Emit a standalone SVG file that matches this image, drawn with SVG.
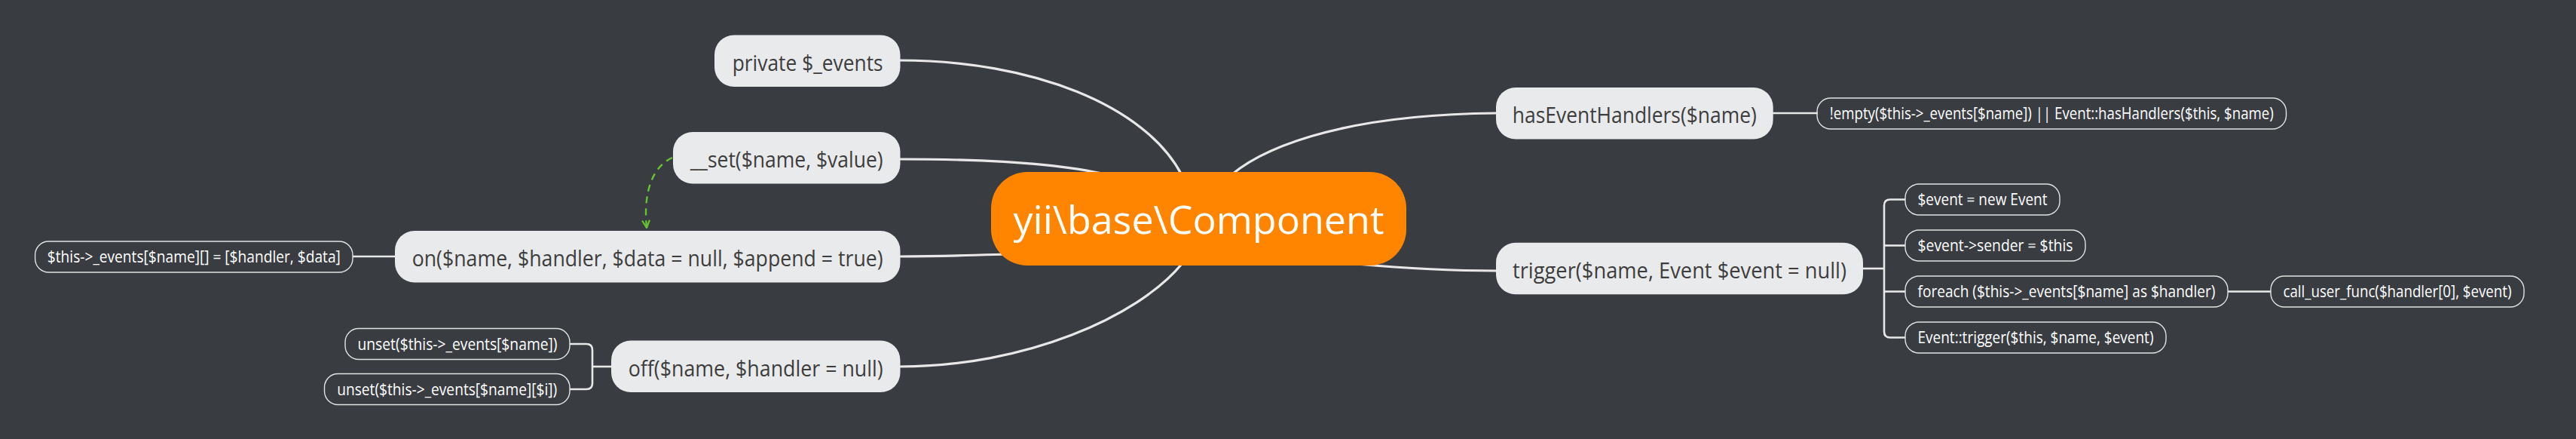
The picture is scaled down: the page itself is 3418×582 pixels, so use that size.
<svg xmlns="http://www.w3.org/2000/svg" width="3418" height="582" viewBox="0 0 3418 582">
<style>
  .bg { fill: #393c41; }
  .main rect { fill: #e9eaec; }
  .main text { fill: #3d3d3d; font-family: "Open Sans", "Noto Sans", sans-serif; font-size: 29px; text-anchor: middle; }
  .sub rect { fill: none; stroke: #e2e2e2; stroke-width: 1.4; }
  .sub text { fill: #ffffff; font-family: "Open Sans", "Noto Sans", sans-serif; font-size: 21px; text-anchor: middle; }
  .center rect { fill: #ff8500; }
  .center text { fill: #ffffff; font-family: "Open Sans", "Noto Sans", sans-serif; font-size: 52px; text-anchor: middle; }
  .c1 { fill: none; stroke: #e8e8e8; stroke-width: 3.2; }
  .c2 { fill: none; stroke: #e8e8e8; stroke-width: 2.6; }
  .rel { fill: none; stroke: #66c430; stroke-width: 2.4; stroke-dasharray: 9 7; }
</style>
<defs>
  <marker id="arr" viewBox="0 0 12 12" refX="11" refY="6" markerWidth="12" markerHeight="12" markerUnits="userSpaceOnUse" orient="auto">
    <path d="M1,1 L11,6 L1,11" fill="none" stroke="#66c430" stroke-width="2.2"/>
  </marker>
</defs>
<rect class="bg" x="0" y="0" width="3418" height="582"/>

<g id="connectors">
  <path class="c1" d="M1194,80 C1370,80 1520,140 1568,232"/>
  <path class="c1" d="M1194,211 C1330,211 1420,220 1470,232"/>
  <path class="c1" d="M1194,340 C1260,340 1290,338 1340,337"/>
  <path class="c1" d="M1194,486 C1360,486 1510,420 1568,350"/>
  <path class="c1" d="M1625,240 C1665,200 1770,152 1985,150"/>
  <path class="c1" d="M1800,350 C1880,357 1930,359 1985,359"/>
  <path class="c2" d="M524,340 L468,340"/>
  <path class="c2" d="M811,486 L786,486"/>
  <path class="c2" d="M756,456 L778,456 Q786,456 786,464 L786,508 Q786,516 778,516 L756,516"/>
  <path class="c2" d="M2352,150 L2412,150"/>
  <path class="c2" d="M2472,356 L2500,356"/>
  <path class="c2" d="M2528,264.5 L2508,264.5 Q2500,264.5 2500,272.5 L2500,439.5 Q2500,447.5 2508,447.5 L2528,447.5"/>
  <path class="c2" d="M2500,325.5 L2528,325.5"/>
  <path class="c2" d="M2500,386.5 L2528,386.5"/>
  <path class="c2" d="M2956,386.5 L3013,386.5"/>
  <path class="rel" d="M892,209 C868,220 853,250 858,302" marker-end="url(#arr)"/>
</g>

<g id="center" class="center">
  <rect x="1315" y="228" width="551" height="124" rx="48"/>
  <text x="1590.5" y="310">yii\base\Component</text>
</g>

<g id="private" class="main">
  <rect x="948" y="46.5" width="246.5" height="68.5" rx="26"/>
  <text x="1071.7" y="93.5" textLength="200" lengthAdjust="spacingAndGlyphs">private $_events</text>
</g>
<g id="set" class="main">
  <rect x="893" y="175" width="301.5" height="68.5" rx="26"/>
  <text x="1043.7" y="222" textLength="256" lengthAdjust="spacingAndGlyphs">__set($name, $value)</text>
</g>
<g id="on" class="main">
  <rect x="524" y="306" width="670.5" height="68.5" rx="26"/>
  <text x="859.2" y="353" textLength="625" lengthAdjust="spacingAndGlyphs">on($name, $handler, $data = null, $append = true)</text>
</g>
<g id="off" class="main">
  <rect x="811" y="451.5" width="383.5" height="68.5" rx="26"/>
  <text x="1002.7" y="498.5" textLength="338" lengthAdjust="spacingAndGlyphs">off($name, $handler = null)</text>
</g>
<g id="hasEventHandlers" class="main">
  <rect x="1985" y="116" width="367.7" height="68.5" rx="26"/>
  <text x="2168.8" y="163" textLength="324" lengthAdjust="spacingAndGlyphs">hasEventHandlers($name)</text>
</g>
<g id="trigger" class="main">
  <rect x="1985" y="321.8" width="487" height="68.5" rx="26"/>
  <text x="2228.5" y="369" textLength="443" lengthAdjust="spacingAndGlyphs">trigger($name, Event $event = null)</text>
</g>

<g id="on-sub" class="sub">
  <rect x="46.6" y="320" width="421.4" height="41" rx="18"/>
  <text x="257.3" y="348" textLength="389" lengthAdjust="spacingAndGlyphs">$this-&gt;_events[$name][] = [$handler, $data]</text>
</g>
<g id="off-sub1" class="sub">
  <rect x="458" y="435.5" width="298" height="41" rx="18"/>
  <text x="607" y="463.5" textLength="265" lengthAdjust="spacingAndGlyphs">unset($this-&gt;_events[$name])</text>
</g>
<g id="off-sub2" class="sub">
  <rect x="430.5" y="495.5" width="325.5" height="41" rx="18"/>
  <text x="593.2" y="523.5" textLength="292" lengthAdjust="spacingAndGlyphs">unset($this-&gt;_events[$name][$i])</text>
</g>
<g id="has-sub" class="sub">
  <rect x="2411" y="130" width="622.5" height="41" rx="18"/>
  <text x="2722.3" y="158" textLength="589" lengthAdjust="spacingAndGlyphs">!empty($this-&gt;_events[$name]) || Event::hasHandlers($this, $name)</text>
</g>
<g id="trig-sub1" class="sub">
  <rect x="2528" y="244" width="205" height="41" rx="18"/>
  <text x="2630.5" y="272" textLength="172" lengthAdjust="spacingAndGlyphs">$event = new Event</text>
</g>
<g id="trig-sub2" class="sub">
  <rect x="2528" y="305" width="239" height="41" rx="18"/>
  <text x="2647.5" y="333" textLength="206" lengthAdjust="spacingAndGlyphs">$event-&gt;sender = $this</text>
</g>
<g id="trig-sub3" class="sub">
  <rect x="2528" y="366" width="428" height="41" rx="18"/>
  <text x="2742" y="394" textLength="395" lengthAdjust="spacingAndGlyphs">foreach ($this-&gt;_events[$name] as $handler)</text>
</g>
<g id="trig-sub3-child" class="sub">
  <rect x="3013" y="366" width="336" height="41" rx="18"/>
  <text x="3181" y="394" textLength="303" lengthAdjust="spacingAndGlyphs">call_user_func($handler[0], $event)</text>
</g>
<g id="trig-sub4" class="sub">
  <rect x="2528" y="427" width="346" height="41" rx="18"/>
  <text x="2701" y="455" textLength="313" lengthAdjust="spacingAndGlyphs">Event::trigger($this, $name, $event)</text>
</g>
</svg>
